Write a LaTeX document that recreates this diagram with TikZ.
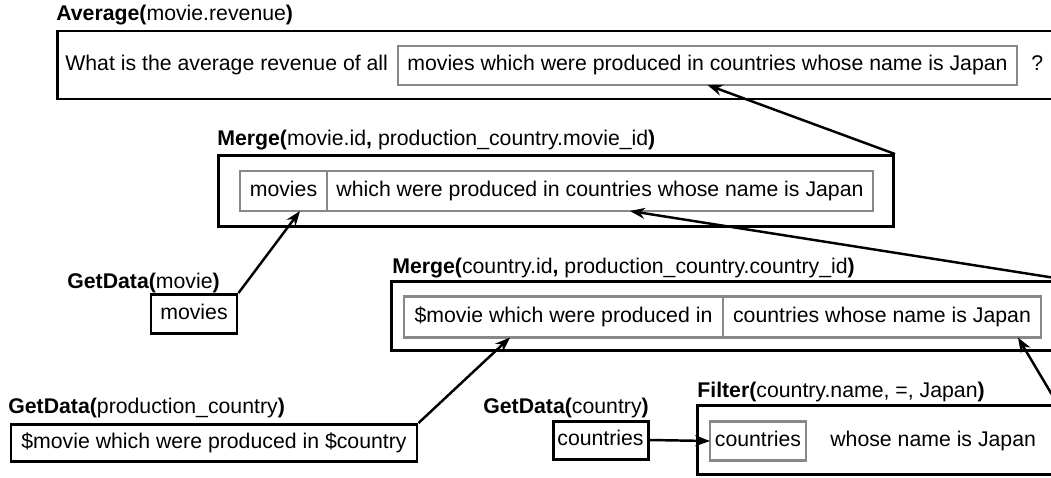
\documentclass[tikz,border=0pt]{standalone}
\usepackage{fontspec}
\setmainfont{Liberation Sans}
\usetikzlibrary{arrows.meta}
\definecolor{cellGray}{RGB}{136,136,136}

\begin{document}
\begin{tikzpicture}[
  x=0.02cm, y=-0.02cm, font=\fontsize{12.1}{14.5}\selectfont,
  op/.style={anchor=base west, inner sep=0pt},
  txt/.style={anchor=west, inner sep=0pt, text height=1.6ex, text depth=0.5ex},
  box/.style 2 args={draw=black, line width=1.7pt, inner sep=0pt,
                     text height=1.6ex, text depth=0.5ex,
                     minimum width=#1*0.02cm, minimum height=#2*0.02cm},
  cell/.style 2 args={draw=cellGray, line width=1.4pt, inner sep=0pt, outer sep=0pt,
                      text height=1.6ex, text depth=0.5ex,
                      minimum width=#1*0.02cm, minimum height=#2*0.02cm},
  flow/.style={-{Stealth[length=0.3cm, width=0.22cm, inset=0.1cm]}, line width=1.4pt},
]
\useasboundingbox (0,0) rectangle (1051,477);
\clip (0,0) rectangle (1051,477);

% ---------------- Average ----------------
\node[op] (avgOp) at (56,20) {\textbf{Average(}movie.revenue\textbf{)}};
\node[box={1023}{68}] (avgBox) at (569,65) {};
\node[txt] (avgPre) at (65,65.5) {What is the average revenue of all};
\node[cell={619}{39}] (avgQ) at (707.5,65.5)
  {movies which were produced in countries whose name is Japan};
\node[txt] (avgEnd) at (1031,65.5) {?};

% ---------------- Merge movie ----------------
\node[op] (m1Op) at (217,145)
  {\textbf{Merge(}movie.id\textbf{,} production\_country.movie\_id\textbf{)}};
\node[box={675}{71}] (m1Box) at (556,191) {};
\node[cell={87}{40}, anchor=west] (m1L) at (240,191) {movies};
\node[cell={546}{40}, anchor=west] (m1R) at (m1L.east)
  {which were produced in countries whose name is Japan};

% ---------------- GetData movie ----------------
\node[op] (gmOp) at (67,288) {\textbf{GetData(}movie\textbf{)}};
\node[box={86}{39}] (gmBox) at (194,314) {movies};

% ---------------- Merge country ----------------
\node[op] (m2Op) at (392,273)
  {\textbf{Merge(}country.id\textbf{,} production\_country.country\_id\textbf{)}};
\node[box={675}{69}] (m2Box) at (729,316) {};
\node[cell={319}{41}, anchor=west] (m2L) at (404,317) {\$movie which were produced in};
\node[cell={318}{41}, anchor=west] (m2R) at (m2L.east) {countries whose name is Japan};

% ---------------- GetData production_country ----------------
\node[op] (gpOp) at (8,413) {\textbf{GetData(}production\_country\textbf{)}};
\node[box={406}{37}] (gpBox) at (214,443) {\$movie which were produced in \$country};

% ---------------- GetData country + Filter ----------------
\node[op] (gcOp) at (483,413) {\textbf{GetData(}country\textbf{)}};
\node[box={95}{38}] (gcBox) at (600.5,440) {countries};
\node[op] (flOp) at (697,397) {\textbf{Filter(}country.name, =, Japan\textbf{)}};
\node[box={359}{69}] (flBox) at (876.5,440) {};
\node[cell={96}{39}] (flIn) at (758,441) {countries};
\node[txt] (flTxt) at (830,441) {whose name is Japan};

% connectors
\draw[flow] (m1Box.north east) -- (avgQ.south);
\draw[flow] (m2Box.north east) -- ([xshift=0.6cm]m1R.south);
\draw[flow] (gmBox.north east) -- ([xshift=0.33cm]m1L.south);
\draw[flow] (gpBox.north east) -- ([xshift=-1.07cm]m2L.south);
\draw[flow] (gcBox.east) -- (flIn.west);
\draw[flow] (flBox.north east) -- ([xshift=2.72cm]m2R.south);
\end{tikzpicture}
\end{document}
